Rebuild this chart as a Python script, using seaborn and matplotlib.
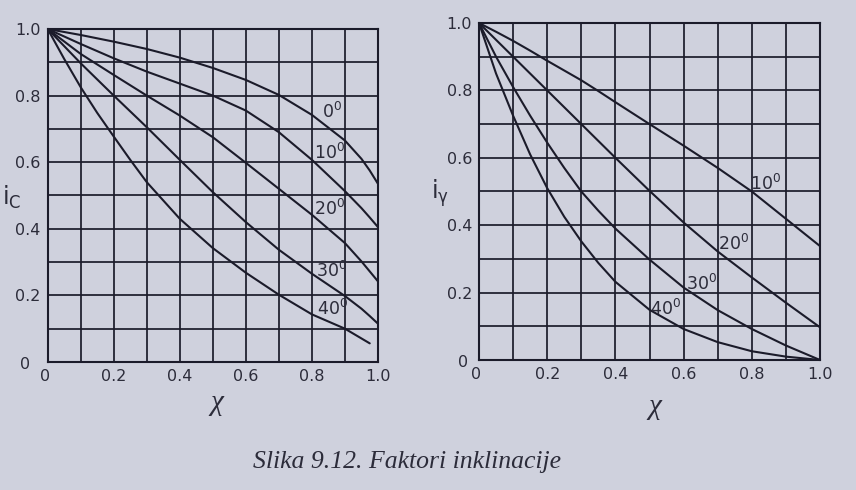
import numpy as np
import pandas as pd
import matplotlib
matplotlib.use("Agg")
import matplotlib.pyplot as plt
import matplotlib.transforms as mtransforms
import seaborn as sns

# ---------------- data ----------------
# left panel: i_c vs chi
chi_c = [0.0, 0.1, 0.2, 0.3, 0.4, 0.5, 0.6, 0.7, 0.8, 0.9, 0.95, 0.975, 1.0]
ic_0 = [1.0, 0.982, 0.962, 0.94, 0.914, 0.883, 0.847, 0.802, 0.742, 0.665, 0.61, 0.575, 0.535]
ic_10 = [1.0, 0.955, 0.912, 0.872, 0.836, 0.80, 0.755, 0.69, 0.607, 0.513, 0.462, 0.434, 0.405]
ic_20 = [1.0, 0.925, 0.862, 0.80, 0.74, 0.675, 0.598, 0.52, 0.442, 0.357, 0.302, 0.272, 0.242]
ic_30 = [1.0, 0.897, 0.80, 0.705, 0.607, 0.51, 0.42, 0.337, 0.265, 0.198, 0.16, 0.138, 0.115]
chi_c40 = [0.0, 0.05, 0.1, 0.15, 0.2, 0.25, 0.3, 0.4, 0.5, 0.6, 0.7, 0.8, 0.9, 0.975]
ic_40 = [1.0, 0.91, 0.825, 0.748, 0.677, 0.607, 0.54, 0.43, 0.342, 0.268, 0.202, 0.143, 0.10, 0.056]

# right panel: i_gamma vs chi
chi_g = [0.0, 0.05, 0.1, 0.15, 0.2, 0.25, 0.3, 0.35, 0.4, 0.5, 0.6, 0.7, 0.8, 0.9, 1.0]
ig_10 = [1.0, 0.974, 0.947, 0.918, 0.888, 0.859, 0.83, 0.798, 0.765, 0.70, 0.636, 0.57, 0.50, 0.419, 0.338]
ig_20 = [1.0, 0.95, 0.90, 0.85, 0.80, 0.75, 0.70, 0.65, 0.60, 0.502, 0.408, 0.322, 0.245, 0.17, 0.097]
ig_30 = [1.0, 0.90, 0.81, 0.725, 0.645, 0.57, 0.50, 0.443, 0.39, 0.298, 0.215, 0.148, 0.092, 0.043, 0.0]
ig_40 = [1.0, 0.85, 0.725, 0.61, 0.51, 0.425, 0.352, 0.288, 0.232, 0.149, 0.092, 0.053, 0.026, 0.01, 0.0]

angles_c = ["0", "10", "20", "30", "40"]
angles_g = ["10", "20", "30", "40"]
tick_vals = [0.0, 0.2, 0.4, 0.6, 0.8, 1.0]
tick_labels = ["0", "0.2", "0.4", "0.6", "0.8", "1.0"]
caption = "Slika 9.12. Faktori inklinacije"

# ---------------- styling ----------------
sns.set_theme(style="white")
plt.rcParams["font.family"] = ["DejaVu Sans"]
plt.rcParams["mathtext.fontset"] = "dejavusans"

bg = "#cfd1dd"
ink = "#1b1b2a"
txt = "#2c2c3a"

fig = plt.figure(figsize=(8.56, 4.90), dpi=100, facecolor=bg)
axL = fig.add_axes([47.7 / 856, 1 - 362 / 490, 330.3 / 856, 333 / 490])
axR = fig.add_axes([479 / 856, 1 - 360 / 490, 341 / 856, 337 / 490])

left_series = [(chi_c, ic_0), (chi_c, ic_10), (chi_c, ic_20), (chi_c, ic_30), (chi_c40, ic_40)]
right_series = [(chi_g, ig_10), (chi_g, ig_20), (chi_g, ig_30), (chi_g, ig_40)]

dfL = pd.concat([pd.DataFrame({"chi": x, "i": y, "angle": a})
                 for (x, y), a in zip(left_series, angles_c)], ignore_index=True)
dfR = pd.concat([pd.DataFrame({"chi": x, "i": y, "angle": a})
                 for (x, y), a in zip(right_series, angles_g)], ignore_index=True)

for ax, df, angles in [(axL, dfL, angles_c), (axR, dfR, angles_g)]:
    ax.set_facecolor(bg)
    sns.lineplot(data=df, x="chi", y="i", hue="angle", hue_order=angles,
                 palette=[ink] * len(angles), estimator=None, sort=False,
                 linewidth=1.5, legend=False, ax=ax)
    ax.set_xlim(0, 1)
    ax.set_ylim(0, 1)
    ax.set_xticks(tick_vals)
    ax.set_xticklabels(tick_labels)
    ax.set_yticks(tick_vals)
    ax.set_yticklabels(tick_labels)
    ax.set_xticks(np.arange(0.1, 1.0, 0.2), minor=True)
    ax.set_yticks(np.arange(0.1, 1.0, 0.2), minor=True)
    ax.grid(True, which="both", color=ink, linewidth=1.25)
    ax.tick_params(which="both", length=0, labelsize=11.5, labelcolor=txt, pad=5)
    for s in ax.spines.values():
        s.set_visible(True)
        s.set_color(ink)
        s.set_linewidth(1.5)
    ax.set_axisbelow(True)

# shift the "0" tick labels slightly as in the reference
for ax, dx in [(axL, -8), (axR, -3)]:
    lab = ax.get_yticklabels()[0]
    lab.set_transform(lab.get_transform() + mtransforms.ScaledTranslation(dx / 72, -1 / 72, fig.dpi_scale_trans))
    lab2 = ax.get_xticklabels()[0]
    lab2.set_transform(lab2.get_transform() + mtransforms.ScaledTranslation(-2 / 72, 0, fig.dpi_scale_trans))

# axis labels
axL.set_ylabel(r"$\mathregular{i_C}$", rotation=0, fontsize=17, color=txt, va="center", ha="center")
axL.yaxis.set_label_coords(-0.108, 0.495)
axR.set_ylabel(r"$\mathregular{i_\gamma}$", rotation=0, fontsize=17, color=txt, va="center", ha="center")
axR.yaxis.set_label_coords(-0.114, 0.496)
for ax, xc, yc in [(axL, 0.513, -0.123), (axR, 0.516, -0.139)]:
    ax.set_xlabel("χ", fontsize=21, color=txt, family=["Liberation Serif", "DejaVu Serif"], style="italic")
    ax.xaxis.set_label_coords(xc, yc)
    ax.xaxis.label.set_va("center")

# curve labels
lab_pos_c = [(0.829, 0.732), (0.806, 0.609), (0.806, 0.441), (0.811, 0.256), (0.815, 0.14)]
for a, (x, y) in zip(angles_c, lab_pos_c):
    axL.text(x, y, a + r"$^{\mathregular{0}}$", fontsize=12.5, color=txt, ha="left", va="baseline")
lab_pos_g = [(0.795, 0.505), (0.70, 0.325), (0.606, 0.208), (0.50, 0.134)]
for a, (x, y) in zip(angles_g, lab_pos_g):
    axR.text(x, y, a + r"$^{\mathregular{0}}$", fontsize=12.5, color=txt, ha="left", va="baseline")

fig.text(407 / 856, 1 - 462 / 490, caption, family=["Liberation Serif", "DejaVu Serif"],
         style="italic", fontsize=18.5, color=txt, ha="center", va="center")

fig.savefig("out.png", dpi=100, facecolor=bg)
